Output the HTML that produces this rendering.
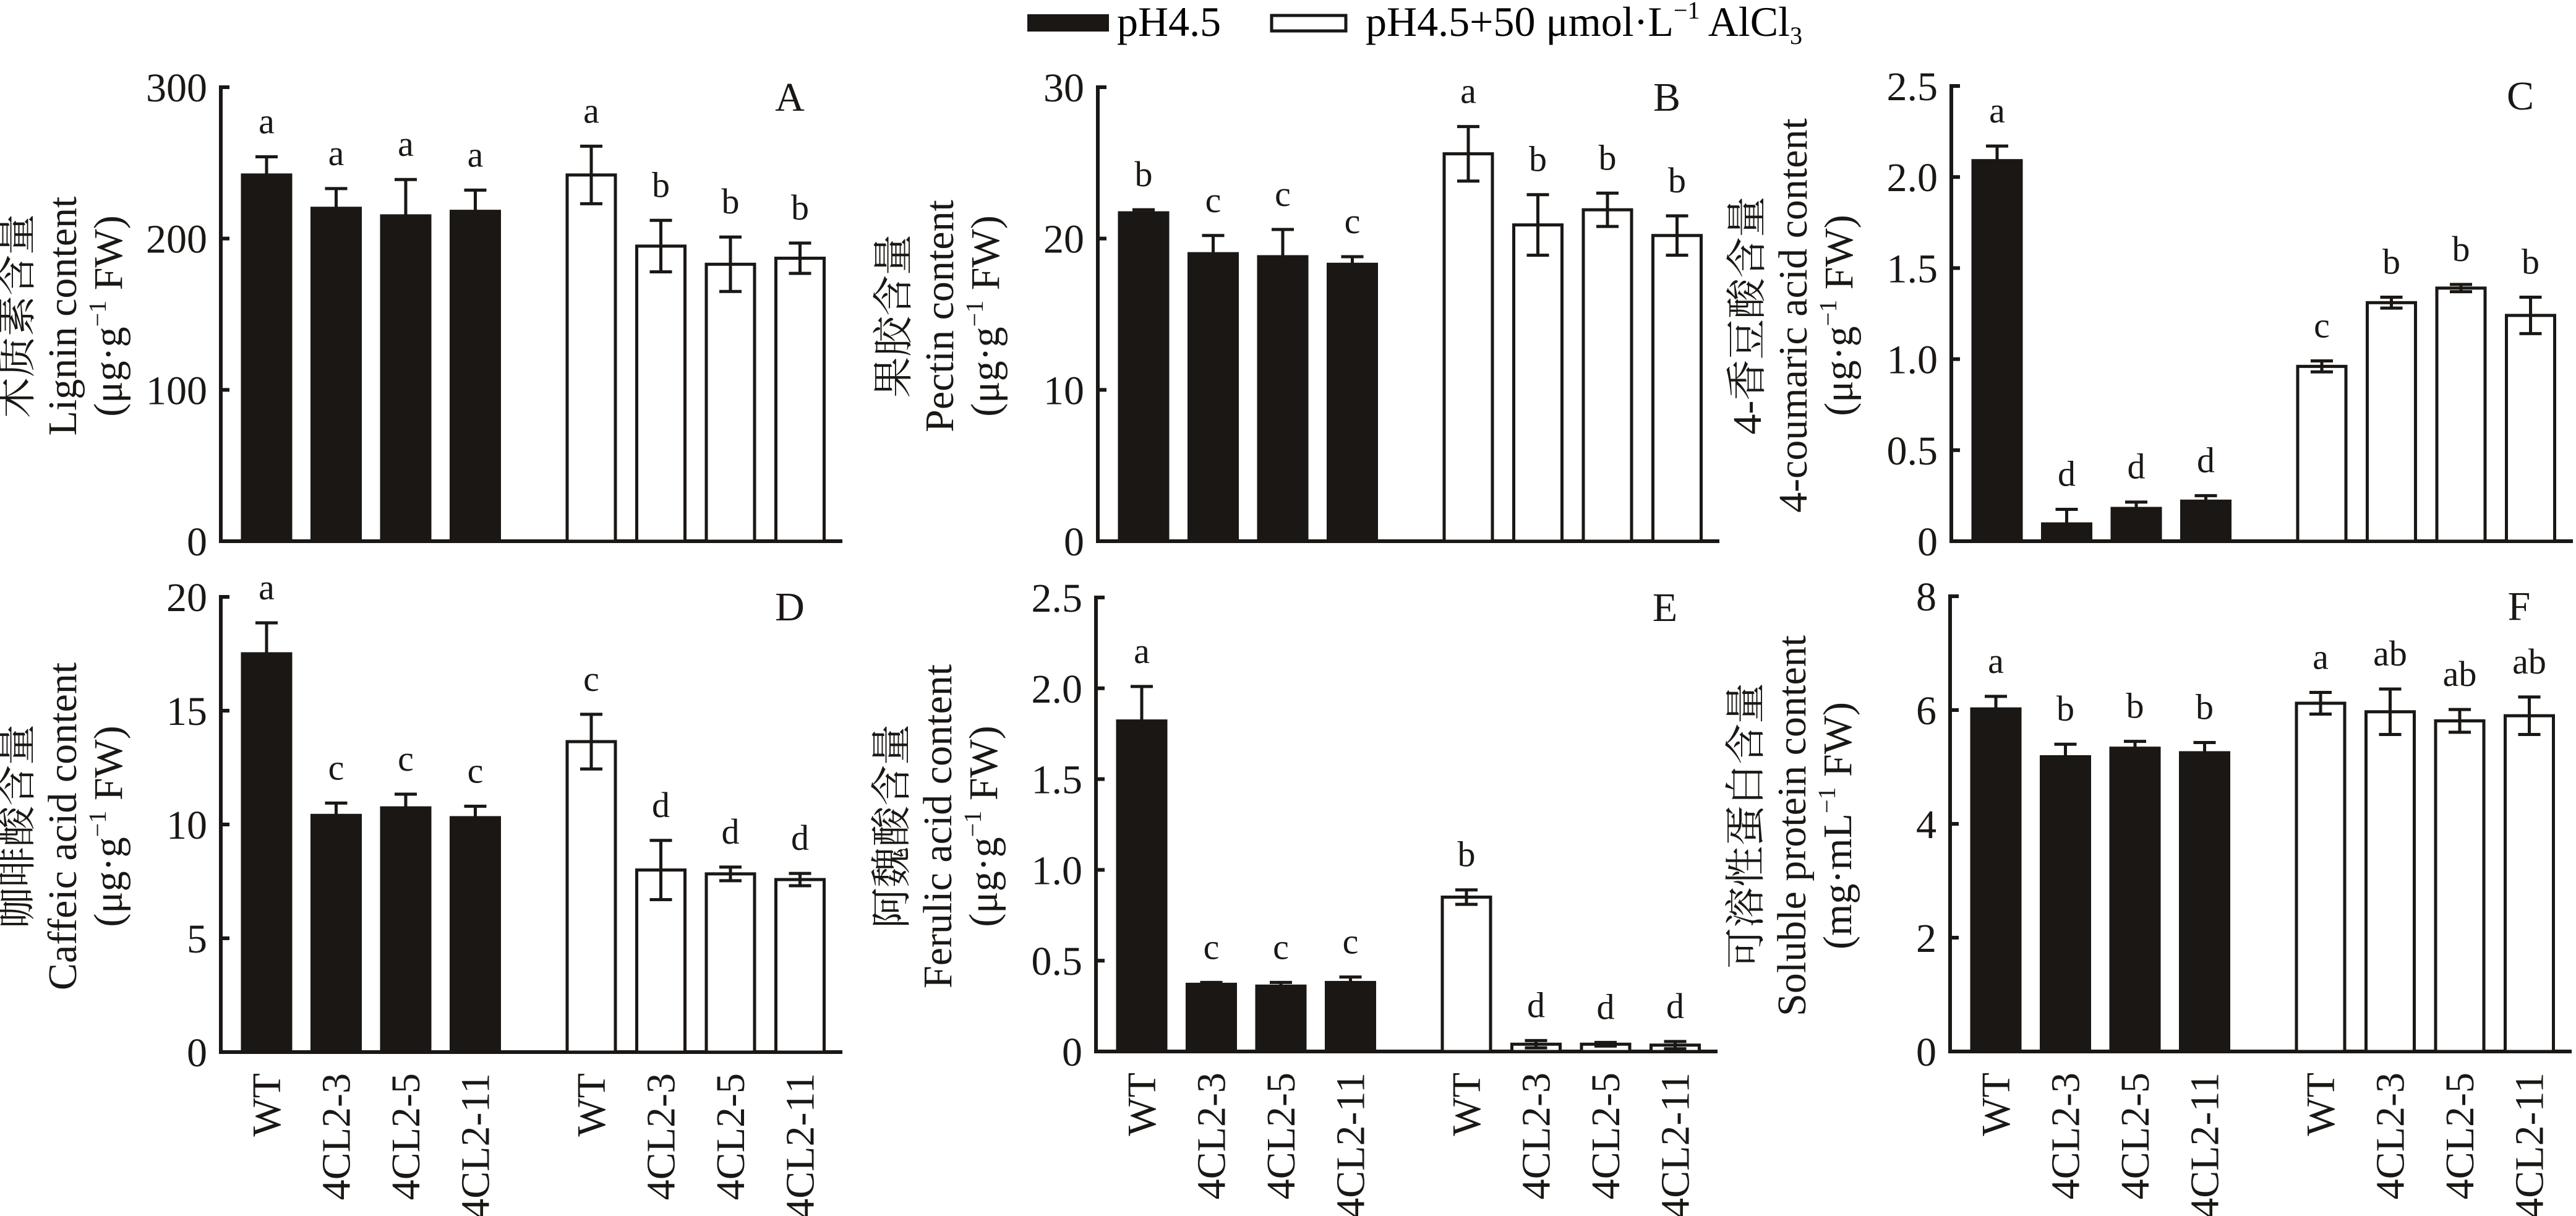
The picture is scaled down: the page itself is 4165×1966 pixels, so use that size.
<!DOCTYPE html>
<html><head><meta charset="utf-8">
<style>
html,body{margin:0;padding:0;background:#fff;}
svg{display:block;font-family:"Liberation Serif","Noto Serif CJK SC",serif;}
</style></head>
<body>
<svg id="fig" width="4165" height="1966" viewBox="0 0 4165 1966" xmlns="http://www.w3.org/2000/svg">
<g>
  <rect x="1661" y="23" width="132" height="28" fill="#1a1714"/>
  <text x="1806" y="58" font-size="68">pH4.5</text>
  <rect x="2056" y="25" width="120" height="25" fill="#fff" stroke="#1a1714" stroke-width="5"/>
  <text x="2208" y="58" font-size="68">pH4.5+50 μmol·L<tspan font-size="40" dy="-28">−1</tspan><tspan dy="28"> AlCl</tspan><tspan font-size="40" dy="13">3</tspan></text>
</g>
</svg>
<script>
const groups = ["WT","4CL2-3","4CL2-5","4CL2-11","WT","4CL2-3","4CL2-5","4CL2-11"];
const ligninVals = [242,220,215,218,242,195,183,187];
const ligninErr = [12,13,24,14,19,17,18,10];
const ligninLetters = ["a","a","a","a","a","b","b","b"];
const pectinVals = [21.7,19.0,18.8,18.3,25.6,20.9,21.9,20.2];
const pectinErr = [0.2,1.2,1.8,0.5,1.8,2.0,1.1,1.3];
const pectinLetters = ["b","c","c","c","a","b","b","b"];
const coumVals = [2.09,0.095,0.18,0.22,0.96,1.31,1.39,1.24];
const coumErr = [0.08,0.08,0.035,0.03,0.03,0.03,0.02,0.1];
const coumLetters = ["a","d","d","d","c","b","b","b"];
const caffVals = [17.5,10.4,10.73,10.3,13.64,8.0,7.83,7.58];
const caffErr = [1.36,0.54,0.6,0.5,1.2,1.3,0.3,0.27];
const caffLetters = ["a","c","c","c","c","d","d","d"];
const ferVals = [1.82,0.37,0.36,0.38,0.85,0.04,0.04,0.035];
const ferErr = [0.19,0.01,0.02,0.03,0.04,0.02,0.01,0.02];
const ferLetters = ["a","c","c","c","b","d","d","d"];
const protVals = [6.02,5.18,5.33,5.25,6.12,5.97,5.81,5.9];
const protErr = [0.22,0.22,0.12,0.18,0.19,0.4,0.2,0.33];
const protLetters = ["a","b","b","b","a","ab","ab","ab"];
const ligninTicks = [0,100,200,300];
const pectinTicks = [0,10,20,30];
const coumTicks = ["0","0.5","1.0","1.5","2.0","2.5"];
const caffTicks = [0,5,10,15,20];
const ferTicks = ["0","0.5","1.0","1.5","2.0","2.5"];
const protTicks = [0,2,4,6,8];

const NS = "http://www.w3.org/2000/svg";
const svg = document.getElementById("fig");
const INK = "#1a1714";
function mk(tag, attrs, parent){
  const e = document.createElementNS(NS, tag);
  for (const k in attrs) e.setAttribute(k, attrs[k]);
  parent.appendChild(e);
  return e;
}

const panels = [
  {id:"A", ax:357, top:141, bot:875, max:300, ticks:ligninTicks, vals:ligninVals, err:ligninErr, let:ligninLetters, t:["木质素含量","Lignin content","(μg·g|−1| FW)"], xl:false},
  {id:"B", ax:1775, top:141, bot:875, max:30, ticks:pectinTicks, vals:pectinVals, err:pectinErr, let:pectinLetters, t:["果胶含量","Pectin content","(μg·g|−1| FW)"], xl:false},
  {id:"C", ax:3155, top:139, bot:875, max:2.5, ticks:coumTicks, vals:coumVals, err:coumErr, let:coumLetters, t:["4-香豆酸含量","4-coumaric acid content","(μg·g|−1| FW)"], xl:false},
  {id:"D", ax:357, top:965, bot:1701, max:20, ticks:caffTicks, vals:caffVals, err:caffErr, let:caffLetters, t:["咖啡酸含量","Caffeic acid content","(μg·g|−1| FW)"], xl:true},
  {id:"E", ax:1772, top:966, bot:1700, max:2.5, ticks:ferTicks, vals:ferVals, err:ferErr, let:ferLetters, t:["阿魏酸含量","Ferulic acid content","(μg·g|−1| FW)"], xl:true},
  {id:"F", ax:3153, top:964, bot:1700, max:8, ticks:protTicks, vals:protVals, err:protErr, let:protLetters, t:["可溶性蛋白含量","Soluble protein content","(mg·mL|−1| FW)"], xl:true}
];

panels.forEach(p => {
  const g = mk("g", {}, svg);
  
  
  const y = v => p.bot - (v / p.max) * (p.bot - p.top);
  const xStart = i => p.ax + 35 + i * 112.5 + (i >= 4 ? 75 : 0);
  const bw = 78;
  const yaxis = mk("line", {x1:p.ax, y1:p.top-3, x2:p.ax, y2:p.bot+3, stroke:INK, "stroke-width":6}, g);
  
  
  const xaxis = mk("line", {x1:p.ax-3, y1:p.bot, x2:p.ax+1005, y2:p.bot, stroke:INK, "stroke-width":6}, g);
  
  
  p.ticks.forEach(t => {
    const v = parseFloat(t);
    const ty = y(v);
    const tk = mk("line", {x1:p.ax, y1:ty, x2:p.ax+14, y2:ty, stroke:INK, "stroke-width":6}, g);
    
    
    const tl = mk("text", {x:p.ax-22, y:ty+23, "font-size":66, "text-anchor":"end", fill:INK}, g);
    tl.textContent = String(t);
    
    
  });
  const cx = p.ax - 190, cy = (p.top + p.bot) / 2 + 3;
  const tg = mk("g", {transform:"translate(" + cx + "," + cy + ") rotate(-90)"}, g);
  
  
  const offs = [-140, -66, 8];
  p.t.forEach((line, k) => {
    const tx = mk("text", {x:0, y:offs[k]+22, "font-size":66, "text-anchor":"middle", fill:INK}, tg);
    if (line.indexOf("|") >= 0) {
      const parts = line.split("|");
      tx.appendChild(document.createTextNode(parts[0]));
      const sup = mk("tspan", {"font-size":40, dy:-26}, tx);
      sup.textContent = parts[1];
      const rest = mk("tspan", {dy:26}, tx);
      rest.textContent = parts[2];
    } else {
      tx.textContent = line;
    }
  });
  const pl = mk("text", {x:p.ax+920, y:p.top+38, "font-size":66, "text-anchor":"middle", fill:INK}, g);
  pl.textContent = p.id;
  
  
  p.vals.forEach((v, i) => {
    const x0 = xStart(i);
    const black = i < 4;
    const top = y(v);
    const r = mk("rect", {x:x0, y:top, width:bw, height:p.bot-top, fill:black?INK:"#fff", stroke:INK, "stroke-width":5}, g);
    
    
    const cxb = x0 + bw/2;
    const eT = y(v + p.err[i]), eB = y(v - p.err[i]);
    const eg = mk("g", {stroke:INK, "stroke-width":5}, g);
    
    
    mk("line", {x1:cxb, y1:eT, x2:cxb, y2:black ? top : eB}, eg);
    mk("line", {x1:cxb-18, y1:eT, x2:cxb+18, y2:eT}, eg);
    if (!black) mk("line", {x1:cxb-18, y1:eB, x2:cxb+18, y2:eB}, eg);
    const lt = mk("text", {x:cxb, y:eT-38, "font-size":58, "text-anchor":"middle", fill:INK}, g);
    lt.textContent = p.let[i];
    
    
    if (p.xl) {
      const xt = mk("text", {x:0, y:0, "font-size":66, "text-anchor":"end", fill:INK, transform:"translate(" + (cxb+22) + "," + (p.bot+34) + ") rotate(-90)"}, g);
      xt.textContent = groups[i];
      
      
    }
  });
});
</script>
</body></html>
